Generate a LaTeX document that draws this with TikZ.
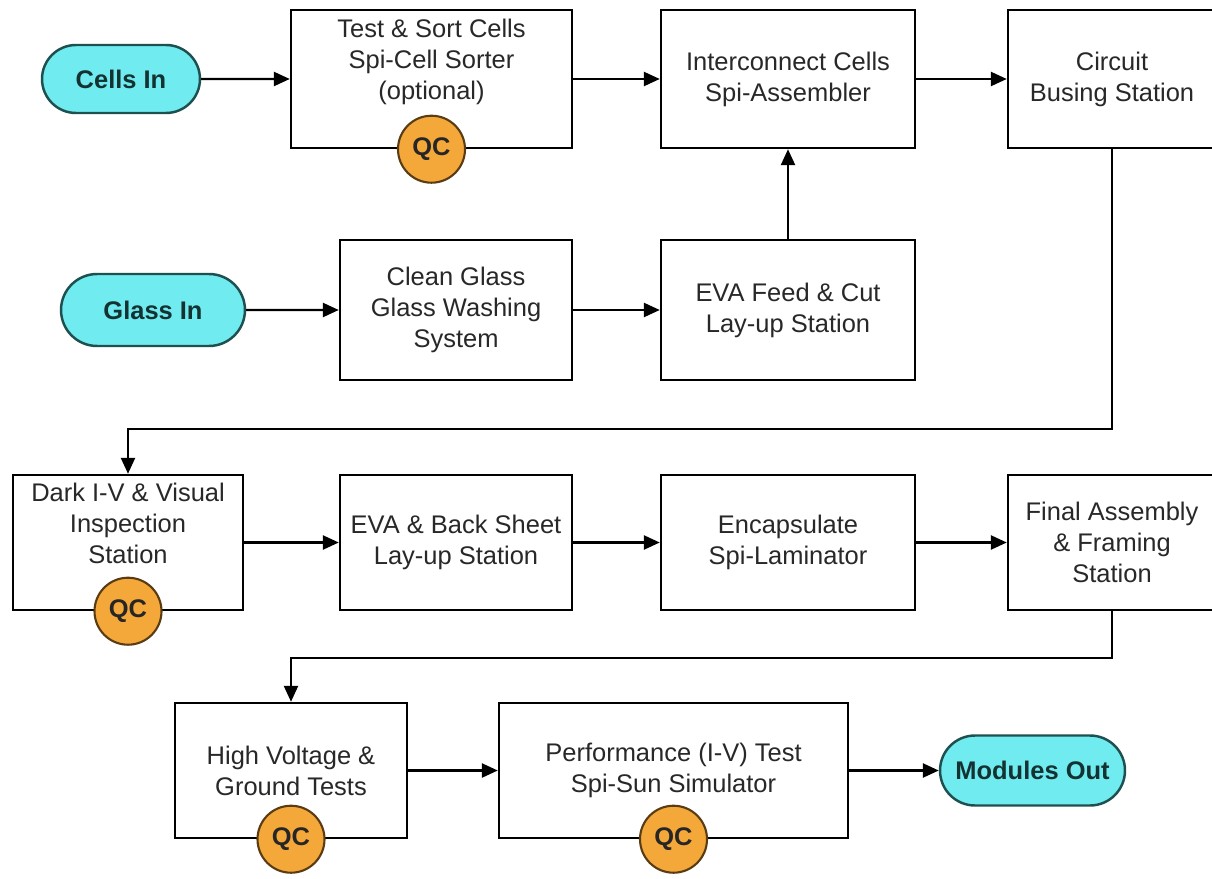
\documentclass[tikz,border=0pt]{standalone}
\usepackage{fontspec}
\setmainfont{Liberation Sans}
\usetikzlibrary{arrows.meta,shapes.misc}
\definecolor{pillfill}{RGB}{112,236,240}
\definecolor{pilldraw}{RGB}{30,80,80}
\definecolor{pilltext}{RGB}{20,50,50}
\definecolor{qcfill}{RGB}{245,168,58}
\definecolor{qcdraw}{RGB}{90,60,20}
\definecolor{txt}{RGB}{40,40,40}
\tikzset{
  boxfont/.style={font=\fontsize{14.5}{17.6}\selectfont},
  stepbox/.style={draw=black, line width=1.4pt, fill=white, align=center, boxfont, text=txt, inner sep=0pt},
  lbl/.style={align=center, boxfont, text=txt, inner sep=0pt},
  pill/.style={rounded rectangle, draw=pilldraw, line width=1.4pt, fill=pillfill, font=\fontsize{14.5}{17.6}\selectfont\bfseries, text=pilltext, inner sep=0pt},
  qc/.style={circle, draw=qcdraw, line width=1.2pt, fill=qcfill, minimum size=1.34cm, inner sep=0pt, font=\fontsize{14.5}{17.6}\selectfont\bfseries, text=black!85},
  flow/.style={line width=1.4pt, -{Triangle[length=0.32cm,width=0.28cm]}}
}
\begin{document}
\begin{tikzpicture}[x=0.02cm,y=-0.02cm]
\useasboundingbox[fill=white] (0,0) rectangle (1212,878);

% row 1
\node[pill, minimum width=3.16cm, minimum height=1.36cm] (cin) at (121,79) {Cells In};
\node[stepbox, minimum width=5.62cm, minimum height=2.76cm] (ts) at (431.5,79) {};
\node[lbl] (tst) at (431.5,62) {Test \& Sort Cells\\Spi-Cell Sorter\\(optional)};
\node[stepbox, minimum width=5.08cm, minimum height=2.76cm] (ic) at (788,79) {Interconnect Cells\\Spi-Assembler};
\node[stepbox, minimum width=4.16cm, minimum height=2.76cm] (cb) at (1112,79) {Circuit\\Busing Station};

% row 2
\node[pill, minimum width=3.68cm, minimum height=1.44cm] (gin) at (153,310) {Glass In};
\node[stepbox, minimum width=4.64cm, minimum height=2.8cm] (cg) at (456,310) {Clean Glass\\Glass Washing\\System};
\node[stepbox, minimum width=5.08cm, minimum height=2.8cm] (ef) at (788,310) {EVA Feed \& Cut\\Lay-up Station};

% row 3
\node[stepbox, minimum width=4.6cm, minimum height=2.7cm] (dk) at (128,542.5) {};
\node[lbl] (dkt) at (128,523) {Dark I-V \& Visual\\Inspection\\Station};
\node[stepbox, minimum width=4.64cm, minimum height=2.7cm] (eb) at (456,542.5) {EVA \& Back Sheet\\Lay-up Station};
\node[stepbox, minimum width=5.08cm, minimum height=2.7cm] (en) at (788,542.5) {Encapsulate\\Spi-Laminator};
\node[stepbox, minimum width=4.16cm, minimum height=2.7cm] (fa) at (1112,542.5) {Final Assembly\\\& Framing\\Station};

% row 4
\node[stepbox, minimum width=4.64cm, minimum height=2.7cm] (hv) at (291,770.5) {High Voltage \&\\Ground Tests};
\node[stepbox, minimum width=6.98cm, minimum height=2.7cm] (pf) at (673.5,770.5) {Performance (I-V) Test\\Spi-Sun Simulator};
\node[pill, minimum width=3.7cm, minimum height=1.4cm] (mo) at (1032.5,770.5) {Modules Out};

% QC markers
\node[qc] (qc1) at (ts.south) {QC};
\node[qc] (qc2) at (dk.south) {QC};
\node[qc] (qc3) at (hv.south) {QC};
\node[qc] (qc4) at (pf.south) {QC};

% connectors
\draw[flow] (cin) -- (ts);
\draw[flow] (ts) -- (ic);
\draw[flow] (ic) -- (cb);
\draw[flow] (gin) -- (cg);
\draw[flow] (cg) -- (ef);
\draw[flow] (ef) -- (ic);
\draw[flow] (cb.south) -- ++(0,280) -| (dk.north);
\draw[flow] (dk) -- (eb);
\draw[flow] (eb) -- (en);
\draw[flow] (en) -- (fa);
\draw[flow] (fa.south) -- ++(0,47) -| (hv.north);
\draw[flow] (hv) -- (pf);
\draw[flow] (pf) -- (mo);
\end{tikzpicture}
\end{document}
